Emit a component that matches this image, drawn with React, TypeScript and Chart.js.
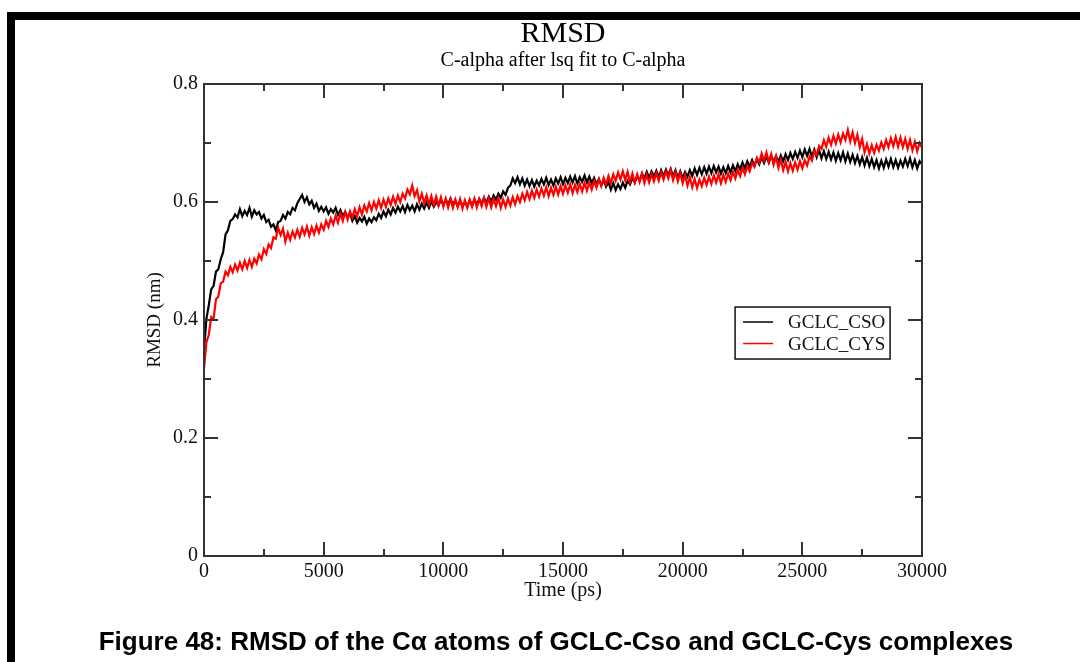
import React, { useEffect, useRef } from "react";
import { Chart, registerables } from "chart.js";

Chart.register(...registerables);

const TITLE = "RMSD";
const SUBTITLE = "C-alpha after lsq fit to C-alpha";
const X_LABEL = "Time (ps)";
const Y_LABEL = "RMSD (nm)";
const CAPTION = "Figure 48: RMSD of the Cα atoms of GCLC-Cso and GCLC-Cys complexes";
const SERIES_NAMES = ["GCLC_CSO", "GCLC_CYS"];
const SERIES_COLORS = ["#000000", "#ff0000"];

const X_MAJOR_TICKS = [0, 5000, 10000, 15000, 20000, 25000, 30000];
const X_MINOR_TICKS = [2500, 7500, 12500, 17500, 22500, 27500];
const Y_MAJOR_TICKS = [0, 0.2, 0.4, 0.6, 0.8];
const Y_MINOR_TICKS = [0.1, 0.3, 0.5, 0.7];

// legend anchor in data units (top-left corner of legend box)
const LEGEND_ANCHOR = { x: 22190, y: 0.422 };

const TIME_STEP_PS = 100;

const CSO_RMSD = [
  0.348, 0.402, 0.425, 0.452, 0.458, 0.482, 0.486, 0.503, 0.515, 0.545,
  0.552, 0.568, 0.571, 0.579, 0.574, 0.588, 0.576, 0.585, 0.578, 0.590,
  0.575, 0.586, 0.579, 0.583, 0.572, 0.578, 0.566, 0.570, 0.558, 0.562,
  0.552, 0.566, 0.568, 0.578, 0.572, 0.583, 0.579, 0.590, 0.586, 0.598,
  0.605, 0.612, 0.600, 0.608, 0.596, 0.602, 0.590, 0.597, 0.585, 0.592,
  0.584, 0.591, 0.580, 0.588, 0.582, 0.590, 0.578, 0.586, 0.576, 0.583,
  0.574, 0.581, 0.568, 0.576, 0.565, 0.573, 0.567, 0.575, 0.563, 0.572,
  0.566, 0.574, 0.569, 0.580, 0.573, 0.584, 0.576, 0.587, 0.579, 0.590,
  0.582, 0.592, 0.584, 0.593, 0.583, 0.595, 0.586, 0.594, 0.584, 0.596,
  0.587, 0.597, 0.589, 0.599, 0.590, 0.601, 0.592, 0.600, 0.594, 0.604,
  0.595, 0.604, 0.596, 0.606, 0.595, 0.603, 0.593, 0.602, 0.594, 0.600,
  0.592, 0.603, 0.594, 0.604, 0.596, 0.605, 0.597, 0.607, 0.599, 0.609,
  0.601, 0.611, 0.604, 0.614, 0.607, 0.618, 0.612, 0.624, 0.628, 0.640,
  0.632, 0.642, 0.630, 0.640, 0.628, 0.638, 0.627, 0.637, 0.626, 0.636,
  0.628, 0.639, 0.630, 0.641, 0.629, 0.638, 0.628, 0.640, 0.631, 0.642,
  0.630, 0.641, 0.632, 0.643, 0.633, 0.644, 0.631, 0.642, 0.634, 0.645,
  0.633, 0.643, 0.632, 0.641, 0.630, 0.639, 0.628, 0.637, 0.626, 0.634,
  0.621, 0.632, 0.620, 0.630, 0.622, 0.633, 0.624, 0.636, 0.630, 0.641,
  0.633, 0.644, 0.636, 0.648, 0.640, 0.651, 0.641, 0.652, 0.643, 0.653,
  0.642, 0.654, 0.644, 0.655, 0.645, 0.656, 0.643, 0.654, 0.641, 0.652,
  0.640, 0.651, 0.643, 0.654, 0.644, 0.657, 0.646, 0.658, 0.647, 0.659,
  0.648, 0.660, 0.649, 0.661, 0.650, 0.660, 0.648, 0.659, 0.649, 0.661,
  0.650, 0.662, 0.652, 0.664, 0.655, 0.667, 0.657, 0.669, 0.660, 0.671,
  0.661, 0.673, 0.664, 0.676, 0.666, 0.677, 0.667, 0.679, 0.668, 0.678,
  0.667, 0.679, 0.669, 0.681, 0.671, 0.683, 0.673, 0.685, 0.675, 0.687,
  0.676, 0.689, 0.678, 0.690, 0.677, 0.689, 0.676, 0.688, 0.674, 0.686,
  0.673, 0.685, 0.672, 0.684, 0.670, 0.683, 0.671, 0.684, 0.669, 0.682,
  0.668, 0.680, 0.666, 0.678, 0.664, 0.676, 0.662, 0.675, 0.661, 0.673,
  0.659, 0.671, 0.657, 0.670, 0.658, 0.672, 0.660, 0.673, 0.659, 0.671,
  0.658, 0.670, 0.660, 0.673, 0.661, 0.674, 0.659, 0.671, 0.657, 0.669,
  0.664,
];

const CYS_RMSD = [
  0.318, 0.362, 0.375, 0.405, 0.402, 0.435, 0.440, 0.462, 0.465, 0.482,
  0.476, 0.490, 0.481, 0.494, 0.484, 0.497, 0.486, 0.500, 0.488, 0.502,
  0.490, 0.504, 0.496, 0.511, 0.503, 0.520, 0.512, 0.528, 0.522, 0.540,
  0.538, 0.556, 0.544, 0.555, 0.533, 0.548, 0.536, 0.550, 0.540, 0.553,
  0.541, 0.556, 0.545, 0.558, 0.543, 0.557, 0.546, 0.560, 0.548, 0.562,
  0.553, 0.568, 0.558, 0.572, 0.562, 0.577, 0.565, 0.580, 0.568, 0.583,
  0.570, 0.584, 0.574, 0.588, 0.576, 0.591, 0.579, 0.594, 0.584, 0.598,
  0.586, 0.600, 0.589, 0.603, 0.590, 0.604, 0.592, 0.606, 0.595, 0.609,
  0.597, 0.611, 0.600, 0.614, 0.606, 0.621, 0.613, 0.628, 0.610, 0.620,
  0.601, 0.614, 0.598, 0.611, 0.596, 0.610, 0.595, 0.609, 0.594, 0.608,
  0.592, 0.606, 0.591, 0.605, 0.590, 0.604, 0.591, 0.605, 0.589, 0.603,
  0.590, 0.604, 0.592, 0.606, 0.591, 0.605, 0.593, 0.607, 0.592, 0.606,
  0.591, 0.605, 0.593, 0.607, 0.590, 0.604, 0.592, 0.606, 0.594, 0.608,
  0.596, 0.610, 0.600, 0.614, 0.603, 0.617, 0.605, 0.619, 0.607, 0.621,
  0.609, 0.623, 0.611, 0.625, 0.610, 0.624, 0.612, 0.626, 0.613, 0.627,
  0.614, 0.628, 0.616, 0.630, 0.615, 0.629, 0.617, 0.631, 0.618, 0.632,
  0.619, 0.633, 0.621, 0.635, 0.624, 0.638, 0.627, 0.641, 0.630, 0.644,
  0.632, 0.647, 0.636, 0.650, 0.638, 0.652, 0.637, 0.651, 0.634, 0.648,
  0.633, 0.647, 0.634, 0.648, 0.632, 0.646, 0.633, 0.647, 0.635, 0.649,
  0.636, 0.650, 0.638, 0.652, 0.640, 0.654, 0.637, 0.651, 0.635, 0.649,
  0.632, 0.646, 0.628, 0.642, 0.625, 0.639, 0.624, 0.638, 0.627, 0.641,
  0.629, 0.643, 0.631, 0.645, 0.633, 0.647, 0.632, 0.646, 0.634, 0.648,
  0.637, 0.651, 0.640, 0.654, 0.644, 0.658, 0.647, 0.661, 0.652, 0.666,
  0.660, 0.675, 0.667, 0.682, 0.670, 0.684, 0.668, 0.681, 0.663, 0.677,
  0.658, 0.672, 0.654, 0.668, 0.652, 0.666, 0.653, 0.667, 0.655, 0.669,
  0.657, 0.671, 0.662, 0.677, 0.670, 0.686, 0.680, 0.695, 0.690, 0.705,
  0.694, 0.709, 0.697, 0.712, 0.699, 0.714, 0.701, 0.716, 0.705, 0.722,
  0.703, 0.718, 0.700, 0.714, 0.693, 0.707, 0.684, 0.698, 0.682, 0.696,
  0.683, 0.697, 0.687, 0.701, 0.690, 0.705, 0.693, 0.708, 0.695, 0.710,
  0.694, 0.709, 0.693, 0.707, 0.690, 0.705, 0.688, 0.702, 0.686, 0.700,
  0.692,
];

const TIME_PS = CSO_RMSD.map((_, i) => i * TIME_STEP_PS);

const SERIF = "'Liberation Serif', 'Times New Roman', serif";
const SANS = "'Liberation Sans', Arial, sans-serif";

const decorPlugin = {
  id: "xmgraceDecor",
  afterDraw(chart: any) {
    const ctx = chart.ctx;
    const { left, right, top, bottom } = chart.chartArea;
    const xs = chart.scales.x;
    const ys = chart.scales.y;
    ctx.save();

    // page border bars
    ctx.fillStyle = "#000";
    ctx.fillRect(7, 12, 1073, 8);
    ctx.fillRect(7, 12, 8, 650);

    // frame
    ctx.strokeStyle = "#333";
    ctx.lineWidth = 2;
    ctx.strokeRect(left, top, right - left, bottom - top);

    const MAJOR = 14;
    const MINOR = 7;
    ctx.beginPath();
    const xt = (vals: number[], len: number) => {
      vals.forEach((v) => {
        const px = Math.round(xs.getPixelForValue(v));
        ctx.moveTo(px, bottom);
        ctx.lineTo(px, bottom - len);
        ctx.moveTo(px, top);
        ctx.lineTo(px, top + len);
      });
    };
    const yt = (vals: number[], len: number) => {
      vals.forEach((v) => {
        const py = Math.round(ys.getPixelForValue(v));
        ctx.moveTo(left, py);
        ctx.lineTo(left + len, py);
        ctx.moveTo(right, py);
        ctx.lineTo(right - len, py);
      });
    };
    xt(X_MAJOR_TICKS, MAJOR);
    xt(X_MINOR_TICKS, MINOR);
    yt(Y_MAJOR_TICKS, MAJOR);
    yt(Y_MINOR_TICKS, MINOR);
    ctx.stroke();

    // legend
    const lx = xs.getPixelForValue(LEGEND_ANCHOR.x);
    const ly = ys.getPixelForValue(LEGEND_ANCHOR.y);
    const boxW = 155;
    const boxH = 52;
    ctx.fillStyle = "#fff";
    ctx.fillRect(lx, ly, boxW, boxH);
    ctx.strokeStyle = "#111";
    ctx.lineWidth = 1.5;
    ctx.strokeRect(lx, ly, boxW, boxH);
    ctx.font = `19px ${SERIF}`;
    ctx.textAlign = "left";
    ctx.textBaseline = "alphabetic";
    chart.data.datasets.forEach((ds: any, i: number) => {
      const cy = ly + 15 + i * 21.5;
      ctx.strokeStyle = ds.borderColor;
      ctx.lineWidth = 1.5;
      ctx.beginPath();
      ctx.moveTo(lx + 8, cy);
      ctx.lineTo(lx + 38, cy);
      ctx.stroke();
      ctx.fillStyle = "#111";
      ctx.fillText(ds.label, lx + 53, cy + 6);
    });

    // caption
    ctx.fillStyle = "#000";
    ctx.font = `bold 26px ${SANS}`;
    ctx.textAlign = "center";
    ctx.textBaseline = "alphabetic";
    ctx.fillText(CAPTION, 556, 650);

    ctx.restore();
  },
};

export default function App() {
  const canvasRef = useRef<HTMLCanvasElement | null>(null);

  useEffect(() => {
    const canvas = canvasRef.current;
    if (!canvas) return;
    const tickFont = { family: SERIF, size: 20, weight: "normal" as const };
    const chart = new Chart(canvas, {
      type: "line",
      data: {
        datasets: [
          {
            label: SERIES_NAMES[0],
            data: TIME_PS.map((t, i) => ({ x: t, y: CSO_RMSD[i] })),
            borderColor: SERIES_COLORS[0],
            backgroundColor: SERIES_COLORS[0],
            borderWidth: 2.2,
            pointRadius: 0,
            tension: 0,
            fill: false,
            order: 2,
          },
          {
            label: SERIES_NAMES[1],
            data: TIME_PS.map((t, i) => ({ x: t, y: CYS_RMSD[i] })),
            borderColor: SERIES_COLORS[1],
            backgroundColor: SERIES_COLORS[1],
            borderWidth: 2.2,
            pointRadius: 0,
            tension: 0,
            fill: false,
            order: 1,
          },
        ],
      },
      options: {
        responsive: false,
        animation: false,
        events: [],
        layout: { padding: { left: 130, right: 84, top: 0, bottom: 59 } },
        plugins: {
          legend: { display: false },
          tooltip: { enabled: false },
          title: {
            display: true,
            text: TITLE,
            color: "#000",
            font: { family: SERIF, size: 30, weight: "normal", lineHeight: 1 },
            padding: { top: 19.4, bottom: 0 },
          },
          subtitle: {
            display: true,
            text: SUBTITLE,
            color: "#000",
            font: { family: SERIF, size: 20, weight: "normal", lineHeight: 1 },
            padding: { top: 1, bottom: 13.6 },
          },
        },
        scales: {
          x: {
            type: "linear",
            position: "bottom",
            min: 0,
            max: 30000,
            afterBuildTicks: (s: any) => {
              s.ticks = X_MAJOR_TICKS.map((v) => ({ value: v }));
            },
            ticks: {
              font: tickFont,
              color: "#111",
              padding: 3.5,
              maxRotation: 0,
              autoSkip: false,
              callback: (v: any) => String(v),
            },
            grid: { display: false, drawTicks: false },
            border: { display: false },
            title: {
              display: true,
              text: X_LABEL,
              color: "#111",
              font: tickFont,
              padding: { top: 0, bottom: 0 },
            },
            afterFit: (s: any) => {
              s.height = 47;
              s.paddingLeft = 0;
              s.paddingRight = 0;
            },
          },
          y: {
            type: "linear",
            position: "left",
            min: 0,
            max: 0.8,
            afterBuildTicks: (s: any) => {
              s.ticks = Y_MAJOR_TICKS.map((v) => ({ value: v }));
            },
            ticks: {
              font: tickFont,
              color: "#111",
              padding: 6,
              autoSkip: false,
              callback: (v: any) => String(v),
            },
            grid: { display: false, drawTicks: false },
            border: { display: false },
            title: {
              display: true,
              text: Y_LABEL,
              color: "#111",
              font: { family: SERIF, size: 19, weight: "normal" },
              padding: { top: 13.6, bottom: 0 },
            },
            afterFit: (s: any) => {
              s.width = 74;
              s.paddingTop = 0;
              s.paddingBottom = 0;
            },
          },
          y2: {
            type: "linear",
            position: "right",
            min: 0,
            max: 0.8,
            ticks: { display: false },
            grid: { display: false, drawTicks: false },
            border: { display: false },
            afterFit: (s: any) => {
              s.width = 74;
              s.paddingTop = 0;
              s.paddingBottom = 0;
            },
          },
        },
      },
      plugins: [decorPlugin],
    } as any);
    return () => chart.destroy();
  }, []);

  return (
    <div style={{ position: "absolute", left: 0, top: 0, width: 1080, height: 662, background: "#fff" }}>
      <canvas ref={canvasRef} width={1080} height={662} />
    </div>
  );
}
